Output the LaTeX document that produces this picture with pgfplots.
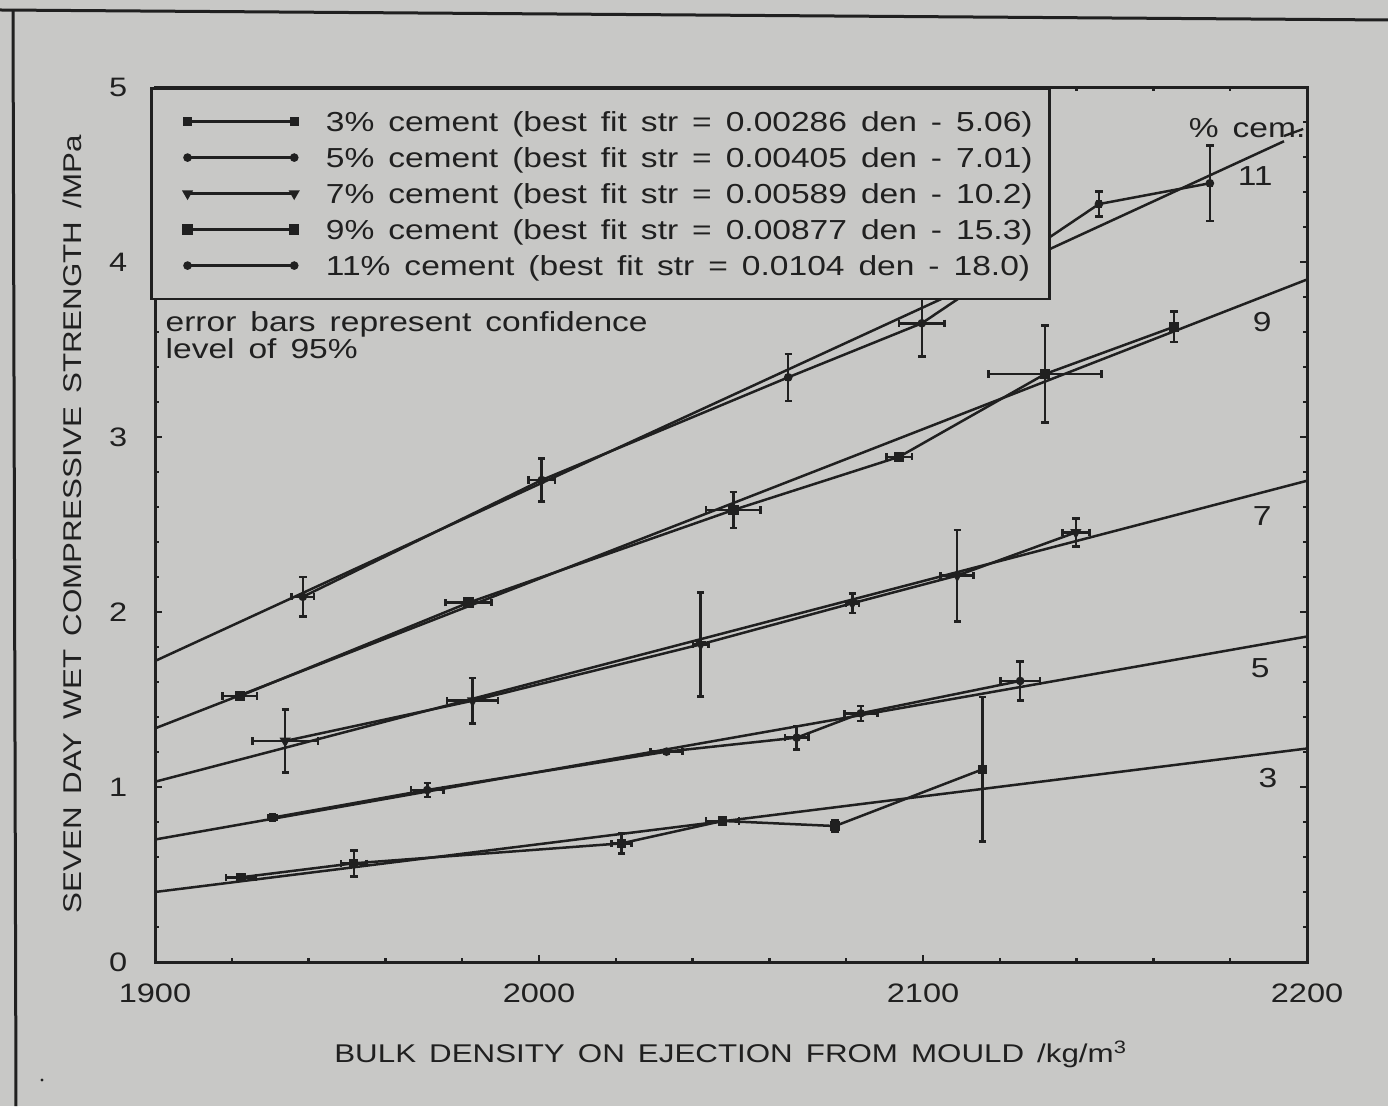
\documentclass[border=0pt]{standalone}
\usepackage{fontspec}
\setmainfont{Liberation Sans}[FakeStretch=1.22,WordSpace=1.5]
\usepackage{pgfplots}
\pgfplotsset{compat=1.18}
\definecolor{bg}{RGB}{200,200,198}
\definecolor{fg}{RGB}{32,32,32}
\newcommand{\cfont}{\fontsize{8}{8.1}\selectfont}
\newcommand{\tfont}{\fontsize{8.25}{8.1}\selectfont}
\newcommand{\lfont}{\fontsize{7.7}{8}\selectfont}

\pgfplotstableread{
x      y     ex   ey
1922.4 0.484 3.9  0.01
1951.8 0.564 3.3  0.074
2021.5 0.678 2.6  0.059
2047.8 0.806 4.3  0.01
2077.1 0.777 0.5  0.034
2115.5 1.101 0.0  0.413
}\cemthree
\pgfplotstableread{
x      y     ex   ey
1930.6 0.825 1.0  0.02
1970.9 0.983 4.2  0.040
2033.2 1.202 4.2  0.01
2067.1 1.282 3.1  0.067
2083.8 1.421 4.3  0.043
2125.3 1.606 5.1  0.111
}\cemfive
\pgfplotstableread{
x      y     ex   ey
1933.9 1.263 8.5  0.180
1982.7 1.493 6.6  0.129
2042.1 1.815 2.0  0.297
2081.6 2.050 1.7  0.057
2108.9 2.208 4.3  0.262
2139.8 2.455 3.5  0.080
}\cemseven
\pgfplotstableread{
x      y     ex   ey
1922.1 1.520 4.5  0.01
1981.6 2.053 6.0  0.02
2050.6 2.583 7.1  0.104
2093.8 2.887 3.3  0.02
2131.8 3.360 14.7 0.276
2165.4 3.630 1.0  0.086
}\cemnine
\pgfplotstableread{
x      y     ex   ey
1938.5 2.087 2.9  0.114
2000.7 2.754 3.5  0.123
2064.9 3.341 0.5  0.134
2099.7 3.650 5.9  0.190
2145.8 4.331 0.5  0.071
2174.7 4.450 0.5  0.217
}\cemeleven

\pgfplotsset{
  errs/.style={
    error bars/x dir=both, error bars/x explicit,
    error bars/y dir=both, error bars/y explicit,
    error bars/error bar style={fg, line width=0.75pt},
    error bars/error mark options={fg, rotate=90, line width=0.75pt, mark size=1.1pt},
  },
}

\begin{document}
\begin{tikzpicture}
\path[use as bounding box, fill=bg] (-46.5pt,-43.2pt) rectangle (369.9pt,288.6pt);
\draw[fg, line width=0.9pt] (-46.5pt,285.6pt) -- (369.9pt,282.6pt);
\draw[fg, line width=0.9pt] (-42.6pt,285.6pt) -- (-41.7pt,-43.2pt);
\fill[fg] (-33.9pt,-35.4pt) circle (0.5pt);

\begin{axis}[
  at={(0pt,0pt)}, anchor=south west,
  scale only axis, width=345.6pt, height=262.5pt,
  xmin=1900, xmax=2200, ymin=0, ymax=5,
  xtick={1900,2000,2100,2200}, ytick={0,1,2,3,4,5},
  minor x tick num=4, minor y tick num=4,
  major tick length=2pt, minor tick length=1.2pt,
  axis line style={fg, line width=0.9pt},
  every tick/.style={fg, line width=0.7pt},
  /pgf/number format/assume math mode=true,
  /pgf/number format/1000 sep={},
  yticklabel={\pgfmathprintnumber[fixed,precision=0]{\tick}},
  xticklabel={\pgfmathprintnumber[fixed,precision=0]{\tick}},
  tick label style={font=\cfont, text=fg},
  yticklabel style={inner sep=0pt, xshift=-8.1pt},
  xticklabel style={inner sep=0pt, yshift=-6.3pt},
  xlabel={BULK DENSITY ON EJECTION FROM MOULD /kg/m\textsuperscript{3}},
  ylabel={SEVEN DAY WET COMPRESSIVE STRENGTH /MPa},
  label style={font=\lfont, text=fg, inner sep=0pt},
  xlabel style={at={(axis description cs:0.5,-0.1154)}, anchor=base},
  ylabel style={at={(axis description cs:-0.0634,0.5)}, anchor=base},
  every axis plot/.append style={fg, line width=0.75pt},
  legend image code/.code={\path (0pt,0pt); \draw[#1] plot coordinates {(6.5pt,0pt) (38.5pt,0pt)};},
  legend cell align=left,
  legend style={at={(axis description cs:-0.0043,1)}, anchor=north west,
    draw=fg, line width=0.75pt, fill=bg, font=\tfont, text=fg,
    inner xsep=4pt, inner ysep=6pt, row sep=2.8pt,
    /tikz/column sep=7.3pt,
    nodes={inner sep=1pt, text height=6pt, text depth=0pt}},
]
% best fit lines
\addplot[fg, no marks, forget plot] coordinates {(1900,0.40) (2200,1.22)};
\addplot[fg, no marks, forget plot] coordinates {(1900,0.70) (2200,1.86)};
\addplot[fg, no marks, forget plot] coordinates {(1900,1.03) (2200,2.75)};
\addplot[fg, no marks, forget plot] coordinates {(1900,1.335) (2200,3.90)};
\addplot[fg, no marks, forget plot] coordinates {(1900,1.72) (2194,4.69)};

% measured points
\addplot[fg, mark=square*, mark size=1.0pt, errs] table[x=x, y=y, x error=ex, y error=ey] {\cemthree};
\addlegendentry{3\% cement (best fit str = 0.00286 den - 5.06)}
\addplot[fg, mark=*, mark size=0.9pt, errs] table[x=x, y=y, x error=ex, y error=ey] {\cemfive};
\addlegendentry{5\% cement (best fit str = 0.00405 den - 7.01)}
\addplot[fg, mark=triangle*, mark size=1.2pt, mark options={rotate=180}, errs] table[x=x, y=y, x error=ex, y error=ey] {\cemseven};
\addlegendentry{7\% cement (best fit str = 0.00589 den - 10.2)}
\addplot[fg, mark=square*, mark size=1.2pt, errs] table[x=x, y=y, x error=ex, y error=ey] {\cemnine};
\addlegendentry{9\% cement (best fit str = 0.00877 den - 15.3)}
\addplot[fg, mark=*, mark size=0.9pt, errs] table[x=x, y=y, x error=ex, y error=ey] {\cemeleven};
\addlegendentry{11\% cement (best fit str = 0.0104 den - 18.0)}

\node[font=\tfont, text=fg, anchor=north west, align=left, inner sep=0pt]
  at (axis cs:1902.6,3.72) {error bars represent confidence\\level of 95\%};
\node[font=\tfont, text=fg] at (axis cs:2184.4,4.766) {\% cem.};
\draw[fg, line width=0.7pt] (axis cs:2194,4.72) -- (axis cs:2199,4.76);
\node[font=\tfont, text=fg] at (axis cs:2186.5,4.49) {11};
\node[font=\tfont, text=fg] at (axis cs:2188.3,3.657) {9};
\node[font=\tfont, text=fg] at (axis cs:2188.3,2.549) {7};
\node[font=\tfont, text=fg] at (axis cs:2187.8,1.68) {5};
\node[font=\tfont, text=fg] at (axis cs:2189.8,1.051) {3};
\end{axis}
\end{tikzpicture}
\end{document}
